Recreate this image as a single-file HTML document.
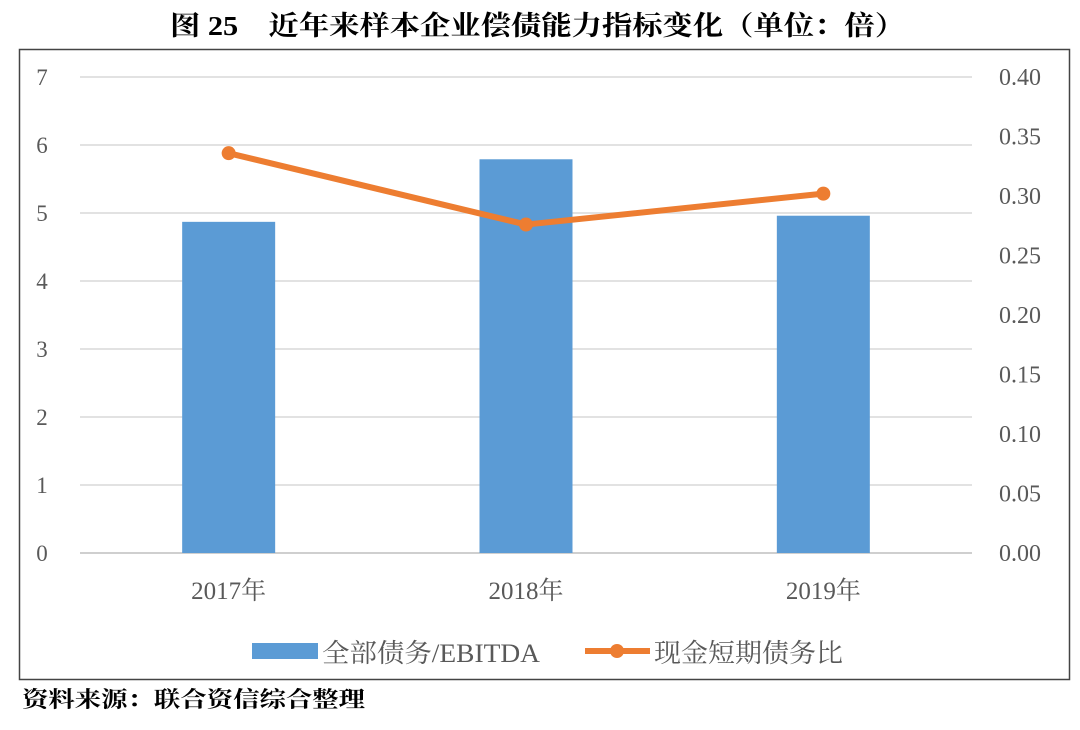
<!DOCTYPE html>
<html><head><meta charset="utf-8"><style>
body{margin:0;background:#fff;width:1080px;height:725px;overflow:hidden;font-family:"Liberation Serif","Noto Serif CJK SC",serif}
</style></head><body>
<svg width="1080" height="725" xmlns="http://www.w3.org/2000/svg">
<text x="170" y="35" textLength="735" lengthAdjust="spacingAndGlyphs" font-size="27" font-weight="bold" fill="#000" font-family="Liberation Serif,Noto Serif CJK SC,serif">图 25　近年来样本企业偿债能力指标变化（单位：倍）</text>
<rect x="19.5" y="49.5" width="1050" height="630" fill="none" stroke="#444" stroke-width="1.5"/>
<g id="grid"></g><g id="bars"></g><g id="line"></g><g id="axes"></g>
<g>
<rect x="252" y="643" width="66" height="16" fill="#5b9bd5"/>
<text x="322" y="662" textLength="218" lengthAdjust="spacingAndGlyphs" font-size="26" fill="#595959">全部债务/EBITDA</text>
<line x1="585" y1="651" x2="650" y2="651" stroke="#ed7d31" stroke-width="6"/>
<circle cx="617" cy="651" r="7" fill="#ed7d31"/>
<text x="654" y="662" textLength="189" lengthAdjust="spacingAndGlyphs" font-size="26" fill="#595959">现金短期债务比</text>
</g>
<text x="22" y="707" textLength="343" lengthAdjust="spacingAndGlyphs" font-size="22" font-weight="bold" fill="#000">资料来源：联合资信综合整理</text>
</svg>
<script>
const categories=["2017年","2018年","2019年"];
const debtEbitda=[4.87,5.79,4.96];
const cashRatio=[0.336,0.276,0.302];
const leftTicks=[0,1,2,3,4,5,6,7];
const rightTicks=["0.00","0.05","0.10","0.15","0.20","0.25","0.30","0.35","0.40"];
const NS="http://www.w3.org/2000/svg";
const x0=80,x1=972,yb=553,yt=77;
const yL=v=>yb-(v/7)*(yb-yt);
const yR=v=>yb-(v/0.4)*(yb-yt);
const band=(x1-x0)/categories.length;
const xc=i=>x0+band*(i+0.5);
function mk(tag,attrs,parent){const e=document.createElementNS(NS,tag);for(const k in attrs)e.setAttribute(k,attrs[k]);document.getElementById(parent).appendChild(e);return e;}
leftTicks.forEach(t=>{
 const g=mk('line',{x1:x0,x2:x1,y1:yL(t),y2:yL(t),stroke:t===0?'#bfbfbf':'#d9d9d9','stroke-width':1.5},'grid');
 
 
 const l=mk('text',{x:42,y:yL(t)+8,'text-anchor':'middle','font-size':23,fill:'#595959'},'axes');
 l.textContent=t;
 
 
});
rightTicks.forEach(t=>{
 const l=mk('text',{x:1020,y:yR(parseFloat(t))+8,'text-anchor':'middle','font-size':24,fill:'#595959'},'axes');
 l.textContent=t;
 
 
});
categories.forEach((c,i)=>{
 const l=mk('text',{x:xc(i),y:599,'text-anchor':'middle','font-size':25,fill:'#595959'},'axes');
 l.textContent=c;
 
 
 const b=mk('rect',{x:xc(i)-46.5,y:yL(debtEbitda[i]),width:93,height:yb-yL(debtEbitda[i]),fill:'#5b9bd5'},'bars');
 
 
});
const pts=cashRatio.map((v,i)=>xc(i)+','+yR(v)).join(' ');
const pl=mk('polyline',{points:pts,fill:'none',stroke:'#ed7d31','stroke-width':6,'stroke-linejoin':'round'},'line');


cashRatio.forEach((v,i)=>{
 const c=mk('circle',{cx:xc(i),cy:yR(v),r:7,fill:'#ed7d31'},'line');
 
 
});
</script>
</body></html>
